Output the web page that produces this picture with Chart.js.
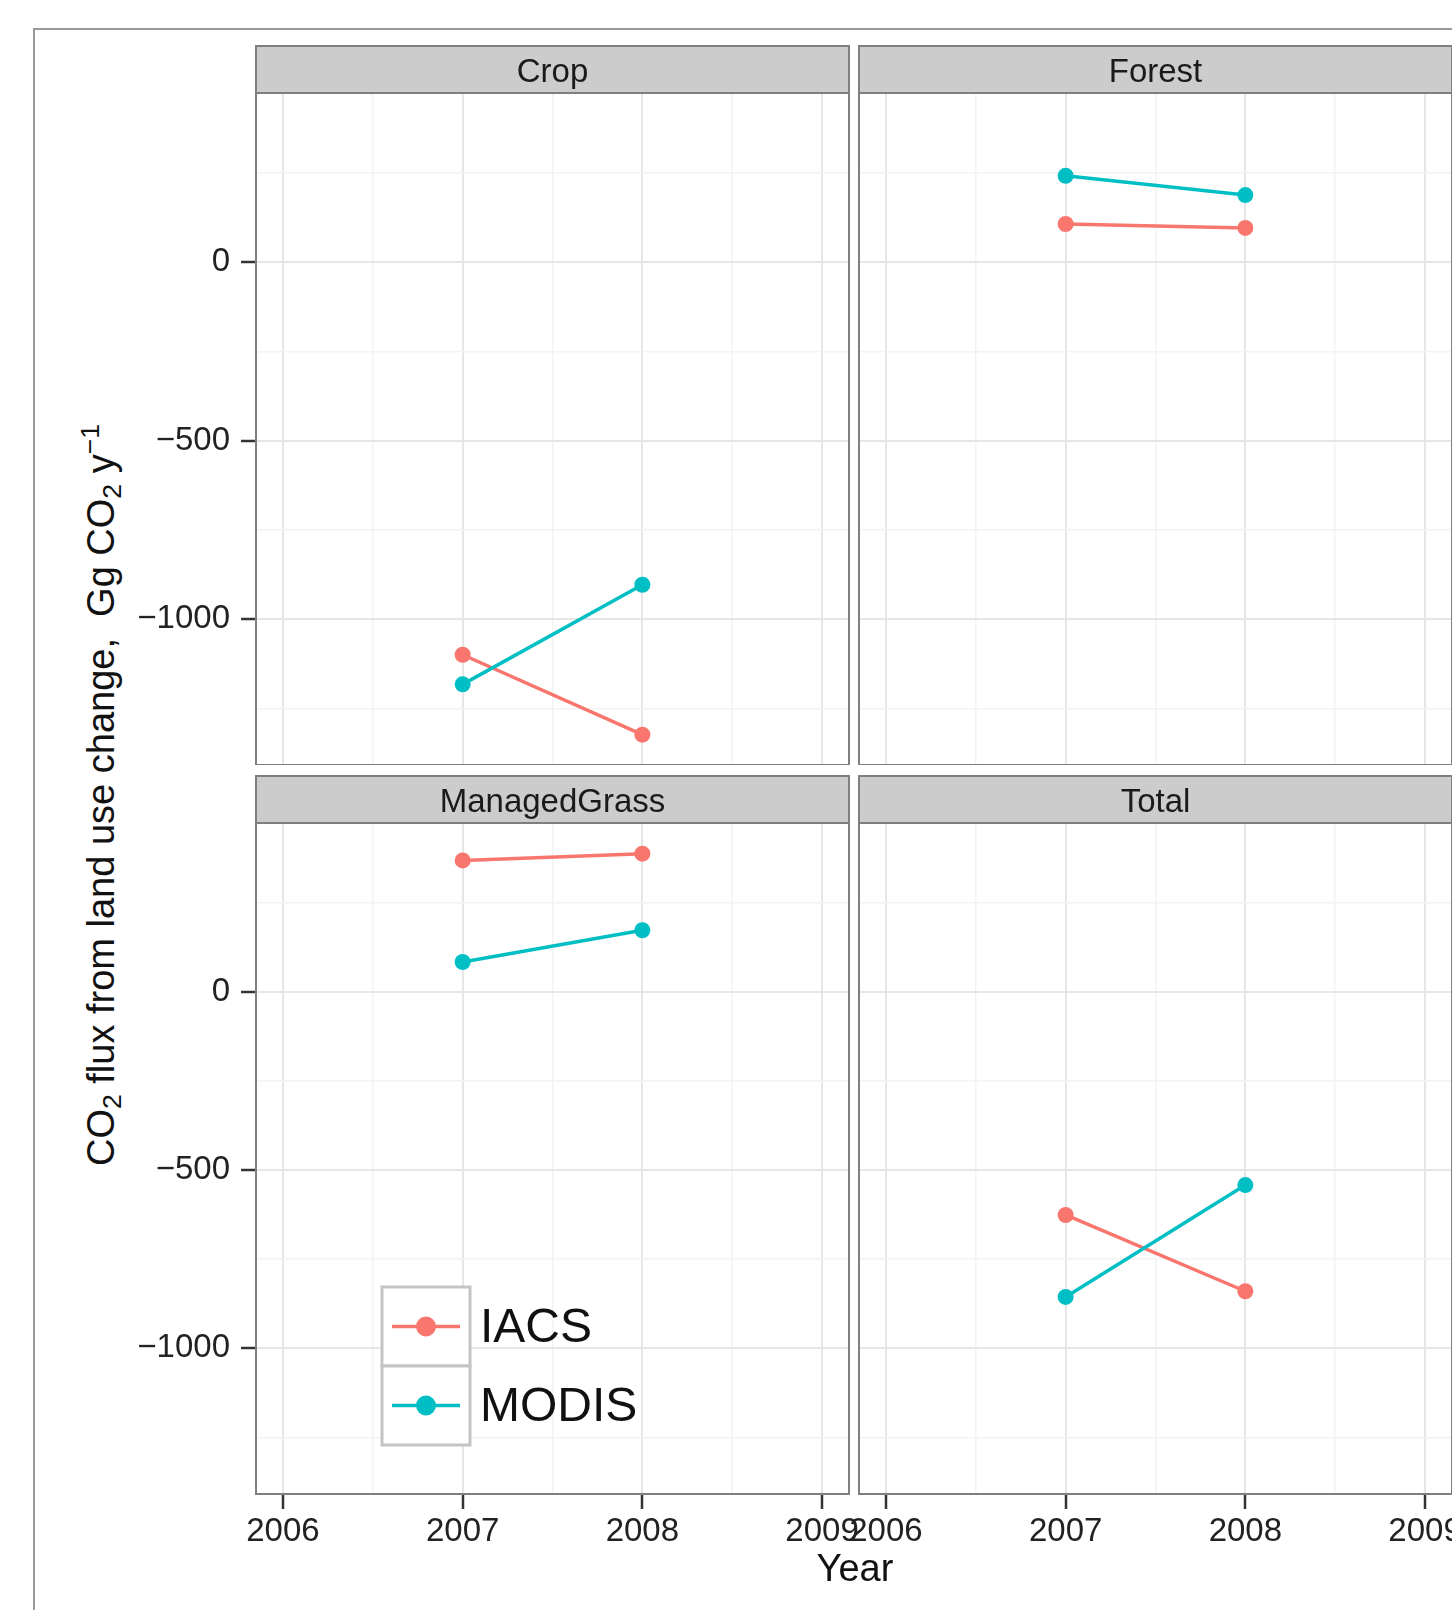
<!DOCTYPE html>
<html>
<head>
<meta charset="utf-8">
<title>CO2 flux from land use change</title>
<script src="https://cdn.jsdelivr.net/npm/chart.js@4.4.1/dist/chart.umd.min.js"></script>
<style>
  html, body { margin: 0; padding: 0; background: #fff; }
  body {
    width: 1452px; height: 1610px; position: relative; overflow: hidden;
    font-family: "Liberation Sans", Arial, sans-serif; color: #111;
  }
  .frame {
    position: absolute; left: 33px; top: 28px; width: 1500px; height: 1700px;
    border: 2px solid #9a9a9a; box-sizing: border-box;
  }
  canvas { position: absolute; }
  .ytitle {
    position: absolute; left: 101px; top: 795px; white-space: nowrap;
    transform: translate(-50%, -50%) rotate(-90deg);
    font-size: 38px; line-height: 1;
  }
  .ytitle sub { font-size: 0.7em; vertical-align: -0.25em; line-height: 0; }
  .ytitle sup { font-size: 0.7em; vertical-align: 0.55em; line-height: 0; }
  .xtitle {
    position: absolute; left: 855px; top: 1568px; white-space: nowrap;
    transform: translate(-50%, -50%); font-size: 38px; line-height: 1;
  }
</style>
</head>
<body>
<div class="frame"></div>
<canvas id="cropChart"></canvas>
<canvas id="forestChart"></canvas>
<canvas id="grassChart"></canvas>
<canvas id="totalChart"></canvas>
<div class="ytitle">CO<sub>2</sub> flux from land use change,&nbsp; Gg CO<sub>2</sub> y<sup>&minus;1</sup></div>
<div class="xtitle">Year</div>

<script>
// Data
const years = [2007, 2008];
const seriesNames = ["IACS", "MODIS"];
const seriesColors = ["#F8766D", "#00BFC4"];

const cropIACS = [-1100, -1324];
const cropMODIS = [-1183, -904];
const forestIACS = [107, 96];
const forestMODIS = [242, 188];
const grassIACS = [369, 388];
const grassMODIS = [84, 173];
const totalIACS = [-626, -840];
const totalMODIS = [-856, -542];

// Axes
const xRange = [2005.85, 2009.15];
const yRange = [-1409, 474];
const xTicks = [2006, 2006.5, 2007, 2007.5, 2008, 2008.5, 2009];
const xMajor = [2006, 2007, 2008, 2009];
const yTicks = [-1250, -1000, -750, -500, -250, 0, 250];
const yMajor = [-1000, -500, 0];

// Layout
const PAD_TOP = 49;
const STRIP_H = 47;
const SIDE = 45;
const YAXIS_W = 126;
const XAXIS_H = 70;
const FONT = "'Liberation Sans', Arial, sans-serif";

// Draws the facet strip, panel border and (optionally) the legend
const facetPlugin = {
  id: "facet",
  afterDraw(chart, args, opts) {
    const ctx = chart.ctx;
    const a = chart.chartArea;
    ctx.save();
    // panel border
    ctx.strokeStyle = "#7f7f7f";
    ctx.lineWidth = 2;
    ctx.strokeRect(a.left, a.top, a.right - a.left, a.bottom - a.top);
    // strip
    ctx.fillStyle = "#cccccc";
    ctx.fillRect(a.left, a.top - STRIP_H, a.right - a.left, STRIP_H);
    ctx.strokeRect(a.left, a.top - STRIP_H, a.right - a.left, STRIP_H);
    ctx.fillStyle = "#1a1a1a";
    ctx.font = "33px " + FONT;
    ctx.textAlign = "center";
    ctx.textBaseline = "middle";
    ctx.fillText(opts.title, (a.left + a.right) / 2, a.top - STRIP_H / 2 + 3);

    // legend
    if (opts.legend) {
      const x = a.left + 126, y0 = a.top + 464, w = 88, h = 79;
      seriesNames.forEach((name, i) => {
        const y = y0 + i * h;
        ctx.fillStyle = "#ffffff";
        ctx.fillRect(x, y, w, h);
        ctx.strokeStyle = "#c4c4c4";
        ctx.lineWidth = 3;
        ctx.strokeRect(x, y, w, h);
        const cy = y + h / 2;
        ctx.strokeStyle = seriesColors[i];
        ctx.lineWidth = 3.5;
        ctx.beginPath();
        ctx.moveTo(x + 10, cy);
        ctx.lineTo(x + w - 10, cy);
        ctx.stroke();
        ctx.fillStyle = seriesColors[i];
        ctx.beginPath();
        ctx.arc(x + w / 2, cy, 10, 0, Math.PI * 2);
        ctx.fill();
        ctx.fillStyle = "#111";
        ctx.font = "48px " + FONT;
        ctx.textAlign = "left";
        ctx.textBaseline = "middle";
        ctx.fillText(name, x + w + 10, cy + 2);
      });
    }
    ctx.restore();
  }
};

function toPoints(values) {
  return values.map((v, i) => ({ x: years[i], y: v }));
}

function fmt(v) {
  return String(v).replace("-", "\u2212");
}

// Create one facet panel
function makePanel(canvasId, area, title, iacs, modis, showY, showX, legend) {
  const cv = document.getElementById(canvasId);
  const leftSpace = showY ? YAXIS_W : SIDE;
  const width = leftSpace + (area.x1 - area.x0) + SIDE;
  const height = PAD_TOP + (area.y1 - area.y0) + (showX ? XAXIS_H : 0);
  cv.width = width;
  cv.height = height;
  cv.style.left = (area.x0 - leftSpace) + "px";
  cv.style.top = (area.y0 - PAD_TOP) + "px";
  cv.style.width = width + "px";
  cv.style.height = height + "px";

  const series = [iacs, modis];
  const datasets = series.map((vals, i) => ({
    label: seriesNames[i],
    data: toPoints(vals),
    borderColor: seriesColors[i],
    backgroundColor: seriesColors[i],
    pointBackgroundColor: seriesColors[i],
    borderWidth: 3.5,
    pointRadius: 8,
    pointBorderWidth: 0,
    pointHoverRadius: 8,
    tension: 0,
    clip: false,
    order: i === 0 ? 1 : 0
  }));

  return new Chart(cv, {
    type: "line",
    data: { datasets },
    options: {
      responsive: false,
      devicePixelRatio: 1,
      animation: false,
      events: [],
      layout: {
        autoPadding: false,
        padding: { top: PAD_TOP, left: showY ? 0 : SIDE, right: SIDE, bottom: 0 }
      },
      plugins: {
        legend: { display: false },
        tooltip: { enabled: false },
        facet: { title, legend }
      },
      scales: {
        x: {
          type: "linear",
          min: xRange[0],
          max: xRange[1],
          afterBuildTicks: s => { s.ticks = xTicks.map(v => ({ value: v })); },
          afterFit: s => {
            s.height = showX ? XAXIS_H : 0;
            s.paddingLeft = 0;
            s.paddingRight = 0;
          },
          border: { display: false },
          grid: {
            color: c => xMajor.includes(c.tick.value) ? "#e6e6e6" : "#f3f3f3",
            lineWidth: c => xMajor.includes(c.tick.value) ? 2 : 1.5,
            drawTicks: showX,
            tickLength: 15,
            tickWidth: 2.5,
            tickColor: c => xMajor.includes(c.tick.value) ? "#333" : "rgba(0,0,0,0)"
          },
          ticks: {
            display: showX,
            autoSkip: false,
            maxRotation: 0,
            padding: 3,
            color: "#222",
            font: { family: FONT, size: 33 },
            callback: v => xMajor.includes(v) ? String(v) : ""
          }
        },
        y: {
          type: "linear",
          min: yRange[0],
          max: yRange[1],
          afterBuildTicks: s => { s.ticks = yTicks.map(v => ({ value: v })); },
          afterFit: s => {
            s.width = showY ? YAXIS_W : 0;
            s.paddingTop = 0;
            s.paddingBottom = 0;
          },
          border: { display: false },
          grid: {
            color: c => yMajor.includes(c.tick.value) ? "#e6e6e6" : "#f3f3f3",
            lineWidth: c => yMajor.includes(c.tick.value) ? 2 : 1.5,
            drawTicks: showY,
            tickLength: 15,
            tickWidth: 2.5,
            tickColor: c => yMajor.includes(c.tick.value) ? "#333" : "rgba(0,0,0,0)"
          },
          ticks: {
            display: showY,
            autoSkip: false,
            padding: 11,
            color: "#222",
            font: { family: FONT, size: 33 },
            callback: v => yMajor.includes(v) ? fmt(v) : ""
          }
        }
      }
    },
    plugins: [facetPlugin]
  });
}

makePanel("cropChart",   { x0: 256, x1: 849,  y0: 93,  y1: 765 },  "Crop",         cropIACS,   cropMODIS,   true,  false, false);
makePanel("forestChart", { x0: 859, x1: 1452, y0: 93,  y1: 765 },  "Forest",       forestIACS, forestMODIS, false, false, false);
makePanel("grassChart",  { x0: 256, x1: 849,  y0: 823, y1: 1494 }, "ManagedGrass", grassIACS,  grassMODIS,  true,  true,  true);
makePanel("totalChart",  { x0: 859, x1: 1452, y0: 823, y1: 1494 }, "Total",        totalIACS,  totalMODIS,  false, true,  false);
</script>
</body>
</html>
